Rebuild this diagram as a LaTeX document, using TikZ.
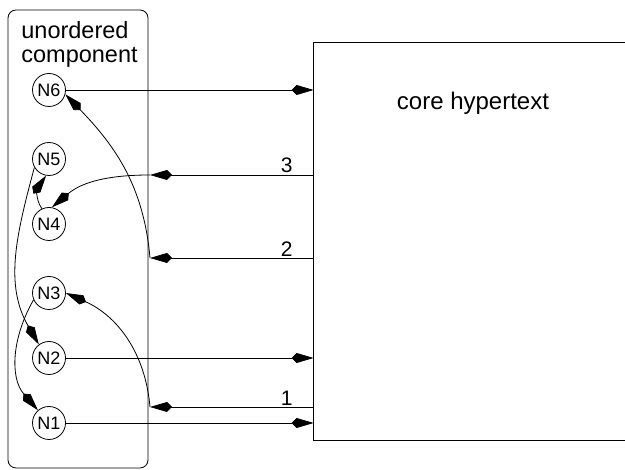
\documentclass[tikz,border=0pt]{standalone}
\usepackage{fontspec}
\setmainfont{Liberation Sans}
\usetikzlibrary{arrows.meta,calc}

\begin{document}
\begin{tikzpicture}[x=1pt,y=1pt,line width=0.8pt,
  tip/.style={-{Kite[length=22pt,width=10pt,inset=5pt]}},
  nd/.style={circle,draw,minimum size=33pt,inner sep=0pt,font=\fontsize{18}{18}\selectfont},
  num/.style={above,inner sep=1.5pt,font=\fontsize{21}{21}\selectfont}]
\useasboundingbox (0,0) rectangle (625,470);

\draw[rounded corners=8pt] (8,2) rectangle (148,460);
\node[align=left,anchor=north west,inner sep=0pt,font=\fontsize{23.5}{24}\selectfont] (title) at (21,449) {unordered\\component};

\node[nd] (N6) at (49,380) {N6};
\node[nd] (N5) at (49,311) {N5};
\node[nd] (N4) at (49,246) {N4};
\node[nd] (N3) at (49,177) {N3};
\node[nd] (N2) at (49,112) {N2};
\node[nd] (N1) at (49,47) {N1};

\node[minimum width=311pt,minimum height=397pt,inner sep=0pt] (core) at (469.5,228.5) {};
\draw (core.north east) -- (core.north west) -- (core.south west) -- (core.south east);
\node[font=\fontsize{24}{24}\selectfont] (corelbl) at (473,367) {core hypertext};

\coordinate (in3) at (150,295);
\coordinate (in2) at (150,212);
\coordinate (in1) at (150,63);

\draw[tip] (N6) -- (N6 -| core.west);
\draw[tip] (N2) -- (N2 -| core.west);
\draw[tip] (N1) -- (N1 -| core.west);

\draw[tip] (in3 -| core.west) -- node[num,pos=0.165] (l3) {3} (in3);
\draw[tip] (in2 -| core.west) -- node[num,pos=0.165] (l2) {2} (in2);
\draw[tip] (in1 -| core.west) -- node[num,pos=0.165] (l1) {1} (in1);

\draw[tip] (in3) to[out=180,in=40] (N4.80);
\draw[tip] (N4.115) to[out=125,in=-125] (N5.-100);
\draw[tip] (in2) to[out=95,in=-46] (N6.-15);
\draw[tip] (in1) to[out=95,in=-24] (N3.east);
\draw[tip] (N5.210) to[out=255,in=120] (N2.127);
\draw[tip] (N3.204) to[out=240,in=131] (N1.131);

\end{tikzpicture}
\end{document}
